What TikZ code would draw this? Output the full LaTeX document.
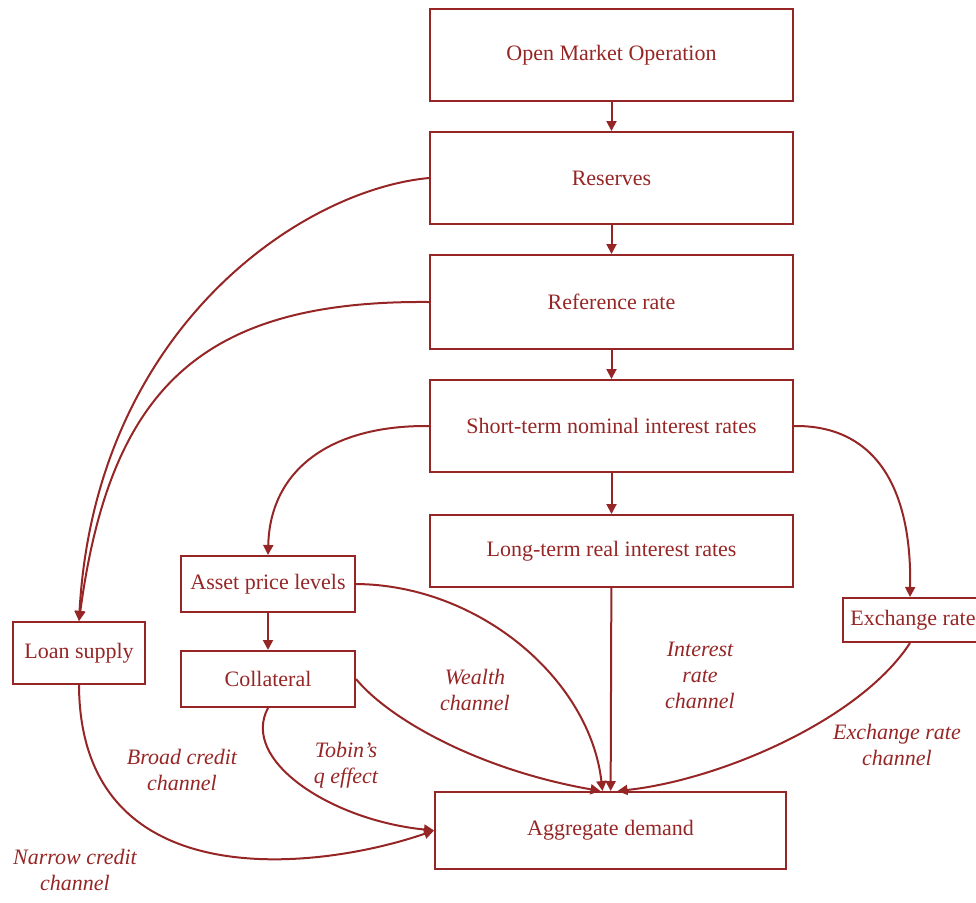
\documentclass[tikz,border=0pt]{standalone}
\usepackage{fontspec}
\setmainfont{Liberation Serif}
\usetikzlibrary{arrows.meta}
\definecolor{dred}{RGB}{150,38,38}
\begin{document}
\begin{tikzpicture}[x=0.5pt,y=-0.5pt,
  box/.style={draw=dred,line width=1pt,text=dred,inner sep=0pt,font=\fontsize{11}{13}\selectfont},
  lbl/.style={text=dred,align=center,font=\fontsize{11}{13}\selectfont\itshape,inner sep=0pt},
  arr/.style={draw=dred,line width=1pt,-{Triangle[length=5pt,width=5pt]}}]
\useasboundingbox (0,0) rectangle (976,902);
\node[box,minimum width=181.5pt,minimum height=46pt] (omo) at (611.5,55) {Open Market Operation};
\node[box,minimum width=181.5pt,minimum height=46pt] (res) at (611.5,178) {Reserves};
\node[box,minimum width=181.5pt,minimum height=47pt] (ref) at (611.5,302) {Reference rate};
\node[box,minimum width=181.5pt,minimum height=46pt] (sht) at (611.5,426) {Short-term nominal interest rates};
\node[box,minimum width=181.5pt,minimum height=36pt] (lng) at (611.5,551) {Long-term real interest rates};
\node[box,minimum width=87pt,minimum height=28pt] (ast) at (268,584) {Asset price levels};
\node[box,minimum width=87pt,minimum height=28pt] (col) at (268,679) {Collateral};
\node[box,minimum width=66pt,minimum height=31pt] (loan) at (79,653) {Loan supply};
\node[box,minimum width=70pt,minimum height=22pt] (exr) at (913,620) {Exchange rate};
\node[box,minimum width=175.5pt,minimum height=38.5pt] (agg) at (610.5,830.5) {Aggregate demand};

\draw[arr] (omo) -- (res);
\draw[arr] (res) -- (ref);
\draw[arr] (ref) -- (sht);
\draw[arr] (sht) -- (lng);
\draw[arr] (ast) -- (col);
\draw[arr] (lng) -- (agg);

\draw[arr] (res.west) .. controls (300,190) and (95,330) .. (loan.north);
\draw[arr] (ref.west) .. controls (200,300) and (110,390) .. (loan.north);
\draw[arr] (sht.west) .. controls (330,425) and (270,470) .. (ast.north);
\draw[arr] (sht.east) .. controls (870,425) and (912,480) .. (exr.north -| 910,0);
\draw[arr] (ast.east) .. controls (480,585) and (590,680) .. ([xshift=-4pt]agg.north);
\draw[arr] (col.east) .. controls (390,720) and (480,770) .. ([xshift=-5pt]agg.north);
\draw[arr] (exr.south -| 910,0) .. controls (860,720) and (720,780) .. ([xshift=3.5pt]agg.north);
\draw[arr] (col.south) .. controls (240,760) and (330,820) .. (agg.west);
\draw[arr] (loan.south) .. controls (80,900) and (320,870) .. (agg.west);

\node[lbl] (l1) at (475,690) {Wealth\\channel};
\node[lbl] (l2) at (700,675) {Interest\\rate\\channel};
\node[lbl] (l3) at (897,745) {Exchange rate\\channel};
\node[lbl] (l4) at (346,765) {Tobin's\\q effect};
\node[lbl] (l5) at (182,770) {Broad credit\\channel};
\node[lbl] (l6) at (75,870) {Narrow credit\\channel};
\end{tikzpicture}
\end{document}
